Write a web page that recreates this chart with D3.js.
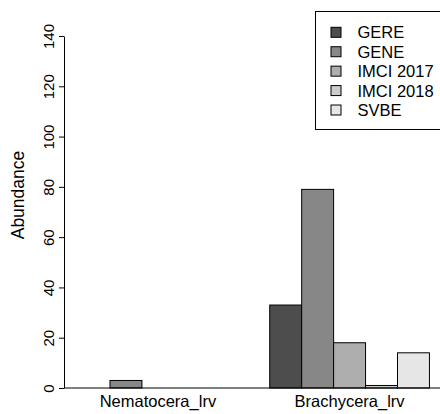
<!DOCTYPE html>
<html>
<head>
<meta charset="utf-8">
<script src="https://cdn.jsdelivr.net/npm/d3@7"></script>
<style>
  html, body { margin: 0; padding: 0; background: #fff; }
  svg { display: block; font-family: "Liberation Sans", Arial, Helvetica, sans-serif; }
</style>
</head>
<body>
<svg id="chart" width="440" height="414"></svg>
<script>
// Abundance by taxon group and sampling site
const categories = ["Nematocera_lrv", "Brachycera_lrv"];
const series = ["GERE", "GENE", "IMCI 2017", "IMCI 2018", "SVBE"];
const seriesColors = ["#4D4D4D", "#878787", "#AEAEAE", "#CCCCCC", "#E6E6E6"];
// values[series][category]
const GERE = [0, 33];
const GENE = [3, 79];
const IMCI2017 = [0, 18];
const IMCI2018 = [0, 1];
const SVBE = [0, 14];
const values = [GERE, GENE, IMCI2017, IMCI2018, SVBE];
const yTicks = [0, 20, 40, 60, 80, 100, 120, 140];

const svg = d3.select("#chart");

// bar-unit coordinates: groups occupy [1,6] and [7,12] with one unit gap
const x = d3.scaleLinear().domain([0.56, 12.44]).range([64, 443.5]);
const y = d3.scaleLinear().domain([0, 140]).range([388, 36]);

const group = d3.scaleBand().domain(categories).range([1, 12])
  .paddingInner(1 / 6).paddingOuter(0);
const inner = d3.scaleBand().domain(series).range([0, group.bandwidth()]);

const bars = [];
categories.forEach((c, ci) => {
  series.forEach((s, si) => {
    bars.push({ c, s, si, v: values[si][ci] });
  });
});

svg.append("g").selectAll("rect")
  .data(bars)
  .join("rect")
  .attr("x", d => x(group(d.c) + inner(d.s)))
  .attr("width", d => x(group(d.c) + inner(d.s) + inner.bandwidth()) - x(group(d.c) + inner(d.s)))
  .attr("y", d => y(d.v))
  .attr("height", d => y(0) - y(d.v))
  .attr("fill", d => seriesColors[d.si])
  .attr("stroke", "#000")
  .attr("stroke-width", 1);

// baseline
svg.append("line")
  .attr("x1", x(0.56)).attr("x2", x(12.44))
  .attr("y1", y(0)).attr("y2", y(0))
  .attr("stroke", "#000").attr("stroke-width", 1);

// y axis
const yAxis = d3.axisLeft(y).tickValues(yTicks).tickSize(5).tickSizeOuter(0).tickPadding(0);
const gy = svg.append("g").attr("transform", `translate(${x(0.56)},0)`).call(yAxis);
gy.select(".domain").attr("stroke", "#000");
gy.selectAll(".tick line").attr("stroke", "#000");
gy.selectAll(".tick text").remove();
gy.selectAll(".tick").append("text")
  .attr("transform", "translate(-10,0) rotate(-90)")
  .attr("text-anchor", "middle")
  .attr("fill", "#000")
  .attr("font-size", 15)
  .text(d => d);

// y axis title
svg.append("text")
  .attr("transform", "translate(24,195) rotate(-90)")
  .attr("text-anchor", "middle")
  .attr("font-size", 17.5)
  .text("Abundance");

// category labels
svg.append("g").selectAll("text")
  .data(categories)
  .join("text")
  .attr("x", d => x(group(d) + group.bandwidth() / 2))
  .attr("y", 406.5)
  .attr("text-anchor", "middle")
  .attr("font-size", 16.5)
  .text(d => d);

// legend
const lg = svg.append("g");
lg.append("rect")
  .attr("x", 315.5).attr("y", 11.5)
  .attr("width", x(12.44) - 315.5).attr("height", 118)
  .attr("fill", "#fff").attr("stroke", "#000").attr("stroke-width", 1);
const rowY = d3.scaleLinear().domain([0, series.length - 1]).range([32.3, 110]);
const items = lg.selectAll("g.item").data(series).join("g").attr("class", "item");
items.append("rect")
  .attr("x", 331).attr("y", (d, i) => rowY(i) - 5)
  .attr("width", 10).attr("height", 10)
  .attr("fill", (d, i) => seriesColors[i])
  .attr("stroke", "#000").attr("stroke-width", 1);
items.append("text")
  .attr("x", 357.5).attr("y", (d, i) => rowY(i))
  .attr("dy", "0.36em")
  .attr("font-size", 16.5)
  .text(d => d);
</script>
</body>
</html>
